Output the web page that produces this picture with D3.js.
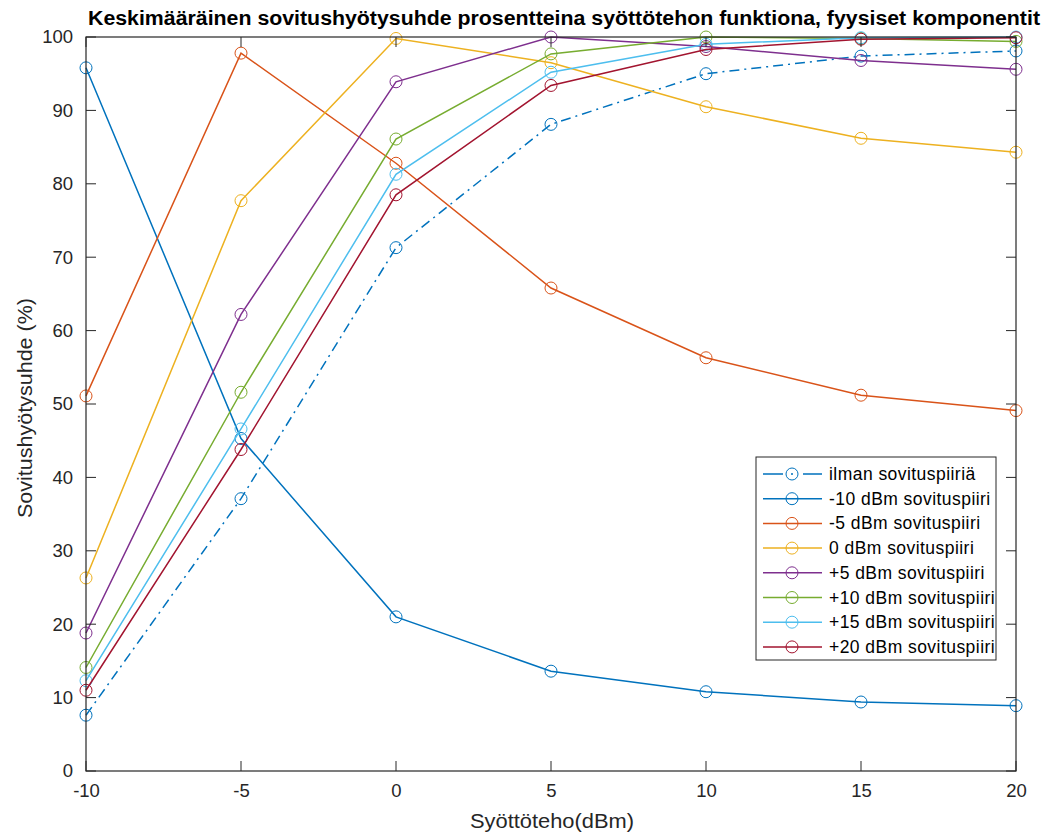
<!DOCTYPE html>
<html><head><meta charset="utf-8">
<script src="https://d3js.org/d3.v7.min.js"></script>
<style>body{margin:0;background:#fff;}svg{display:block;}</style>
</head><body>
<script>
const xValues = [-10, -5, 0, 5, 10, 15, 20];
const seriesNames = ["ilman sovituspiiriä","-10 dBm sovituspiiri","-5 dBm sovituspiiri","0 dBm sovituspiiri","+5 dBm sovituspiiri","+10 dBm sovituspiiri","+15 dBm sovituspiiri","+20 dBm sovituspiiri"];
const ilman   = [7.6, 37.1, 71.3, 88.1, 95.0, 97.4, 98.1];
const m10     = [95.8, 45.3, 21.0, 13.6, 10.8, 9.4, 8.9];
const m5      = [51.1, 97.8, 82.8, 65.8, 56.3, 51.2, 49.1];
const p0      = [26.3, 77.7, 99.8, 96.5, 90.5, 86.2, 84.3];
const p5      = [18.8, 62.2, 93.9, 100.0, 98.7, 96.8, 95.6];
const p10     = [14.1, 51.6, 86.1, 97.7, 100.0, 99.8, 99.4];
const p15     = [12.3, 46.6, 81.3, 95.2, 99.0, 99.9, 100.0];
const p20     = [11.0, 43.8, 78.5, 93.4, 98.3, 99.7, 99.9];
const seriesValues = [ilman, m10, m5, p0, p5, p10, p15, p20];
const colors = ["#0072BD","#0072BD","#D95319","#EDB120","#7E2F8E","#77AC30","#4DBEEE","#A2142F"];
const xTicks = [-10, -5, 0, 5, 10, 15, 20];
const yTicks = [0, 10, 20, 30, 40, 50, 60, 70, 80, 90, 100];
const titleText = "Keskimääräinen sovitushyötysuhde prosentteina syöttötehon funktiona, fyysiset komponentit";
const xLabel = "Syöttöteho(dBm)";
const yLabel = "Sovitushyötysuhde (%)";

const W = 1053, H = 834;
const L = 86, R = 1016, T = 37, B = 771;
const FONT = "'Liberation Sans', Arial, Helvetica, sans-serif";
const svg = d3.select("body").append("svg").attr("width", W).attr("height", H)
  .style("font-family", FONT);

const x = d3.scaleLinear().domain([-10, 20]).range([L, R]);
const y = d3.scaleLinear().domain([0, 100]).range([B, T]);

const axisColor = "#262626";
const tickLen = 10;

// plot lines
const line = d3.line().x((d, i) => x(xValues[i])).y(d => y(d));
const g = svg.append("g");
seriesValues.forEach((vals, k) => {
  g.append("path").datum(vals).attr("d", line)
    .attr("fill", "none").attr("stroke", colors[k]).attr("stroke-width", 1.5)
    .attr("stroke-dasharray", k === 0 ? "10,5,2,5" : null);
  g.selectAll(null).data(vals).enter().append("circle")
    .attr("cx", (d, i) => x(xValues[i])).attr("cy", d => y(d)).attr("r", 6)
    .attr("fill", "none").attr("stroke", colors[k]).attr("stroke-width", 1);
});

// axes box
const ax = svg.append("g");
ax.append("rect").attr("x", L).attr("y", T).attr("width", R - L).attr("height", B - T)
  .attr("fill", "none").attr("stroke", axisColor).attr("stroke-width", 1.2);

const fmt = d => String(d);
const xAxis = d3.axisBottom(x).tickValues(xTicks).tickSize(0).tickPadding(13).tickFormat(fmt);
const xa = svg.append("g").attr("transform", `translate(0,${B})`).call(xAxis);
xa.select(".domain").remove();
xa.selectAll("text").attr("font-size", 18.5).attr("fill", axisColor).attr("font-family", FONT);

const yAxis = d3.axisLeft(y).tickValues(yTicks).tickSize(0).tickPadding(13).tickFormat(fmt);
const ya = svg.append("g").attr("transform", `translate(${L},0)`).call(yAxis);
ya.select(".domain").remove();
ya.selectAll("text").attr("font-size", 18.5).attr("fill", axisColor).attr("font-family", FONT);

// inward ticks on all four sides
xTicks.forEach(t => {
  ax.append("line").attr("x1", x(t)).attr("x2", x(t)).attr("y1", B).attr("y2", B - tickLen).attr("stroke", axisColor);
  ax.append("line").attr("x1", x(t)).attr("x2", x(t)).attr("y1", T).attr("y2", T + tickLen).attr("stroke", axisColor);
});
yTicks.forEach(t => {
  ax.append("line").attr("x1", L).attr("x2", L + tickLen).attr("y1", y(t)).attr("y2", y(t)).attr("stroke", axisColor);
  ax.append("line").attr("x1", R).attr("x2", R - tickLen).attr("y1", y(t)).attr("y2", y(t)).attr("stroke", axisColor);
});

// title and labels
svg.append("text").attr("x", 88).attr("y", 25)
  .attr("font-size", 19.5).attr("font-weight", "bold").attr("fill", "#000")
  .attr("textLength", 952).attr("lengthAdjust", "spacingAndGlyphs").text(titleText);
svg.append("text").attr("x", 470).attr("y", 828)
  .attr("font-size", 20.5).attr("fill", axisColor)
  .attr("textLength", 164).attr("lengthAdjust", "spacingAndGlyphs").text(xLabel);
svg.append("text").attr("transform", `translate(32,518) rotate(-90)`)
  .attr("font-size", 20.5).attr("fill", axisColor)
  .attr("textLength", 220).attr("lengthAdjust", "spacingAndGlyphs").text(yLabel);

// legend
const lg = svg.append("g");
const lx = 756, ly = 457, lw = 240, lh = 203;
lg.append("rect").attr("x", lx).attr("y", ly).attr("width", lw).attr("height", lh)
  .attr("fill", "#fff").attr("stroke", axisColor).attr("stroke-width", 1);
seriesNames.forEach((name, k) => {
  const yy = ly + 17 + k * 24.7;
  lg.append("line").attr("x1", lx + 7).attr("x2", lx + 66).attr("y1", yy).attr("y2", yy)
    .attr("stroke", colors[k]).attr("stroke-width", 1.5)
    .attr("stroke-dasharray", k === 0 ? "20,8,2,10,20" : null);
  lg.append("circle").attr("cx", lx + 36).attr("cy", yy).attr("r", 6)
    .attr("fill", "none").attr("stroke", colors[k]).attr("stroke-width", 1);
  lg.append("text").attr("x", lx + 73).attr("y", yy + 6).attr("font-size", 17.5)
    .attr("letter-spacing", 0.45).attr("fill", "#000").text(name);
});
</script>
</body></html>
